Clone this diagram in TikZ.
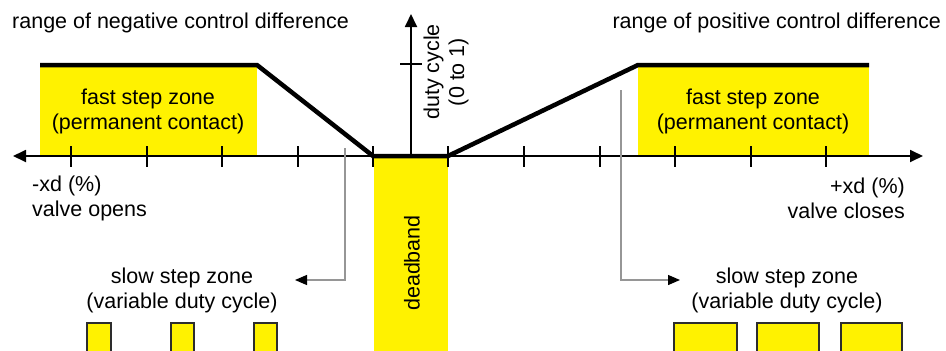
\documentclass[tikz,border=0pt]{standalone}
\usepackage{fontspec}
\setmainfont{Liberation Sans}
\usetikzlibrary{arrows.meta}
\definecolor{zoneyellow}{RGB}{255,242,0}
\definecolor{pulseedge}{RGB}{45,45,45}
\definecolor{leadergray}{RGB}{150,150,150}
\tikzset{
  lbl/.style={font=\fontsize{21.5}{25}\selectfont, inner sep=0pt, align=center, text=black},
  zonefill/.style={fill=zoneyellow, draw=none},
  axisline/.style={line width=1.8pt, black},
  tickline/.style={line width=1.8pt, black},
  curve/.style={line width=4.5pt, black, line join=miter},
  pulse/.style={draw=pulseedge, line width=2pt},
  leader/.style={draw=leadergray, line width=1.3pt, -{Triangle[length=12pt,width=10pt,color=black]}},
  axistip/.style={{Triangle[length=13pt,width=12pt]}-{Triangle[length=13pt,width=12pt]}},
  axistipone/.style={-{Triangle[length=13pt,width=12pt]}}
}
\begin{document}
\begin{tikzpicture}[x=1pt,y=-1pt]
\useasboundingbox (0,0) rectangle (946,351);
% yellow zones
\fill[zonefill] (40,65) rectangle (257,156);
\fill[zonefill] (638,65) rectangle (869,156);
\fill[zonefill] (374,156) rectangle (448,351);
% pulses
\foreach \a/\b in {87/111,171/194,254/277,674/737,757/819,841/902}{
  \fill[zonefill] (\a,323) rectangle (\b,351);
  \draw[pulse] (\a,352) -- (\a,323) -- (\b,323) -- (\b,352);
}
% axes
\coordinate (xl) at (13,156);
\coordinate (xr) at (923,156);
\coordinate (origin) at (411,156);
\coordinate (ytop) at (411,14);
\draw[axisline, axistip] (xl) -- (xr);
\draw[axisline, axistipone] (origin) -- (ytop);
\foreach \x in {71,147,222,298,373,448,524,600,675,751,826}{
  \draw[tickline] (\x,146) -- (\x,167);
}
\draw[tickline] (400,64) -- (422,64);
% characteristic curve
\coordinate (c1) at (40,65);
\coordinate (c2) at (257,65);
\coordinate (c3) at (373,156);
\coordinate (c4) at (448,156);
\coordinate (c5) at (638,65);
\coordinate (c6) at (869,65);
\draw[curve] (c1) -- (c2) -- (c3) -- (c4) -- (c5) -- (c6);
% labels
\node[lbl, anchor=west] (negrange) at (12,23) {range of negative control difference};
\node[lbl, anchor=east] (posrange) at (941,23) {range of positive control difference};
\node[lbl] (fastL) at (148,111) {fast step zone\\(permanent contact)};
\node[lbl] (fastR) at (753,111) {fast step zone\\(permanent contact)};
\node[lbl, rotate=90] (duty) at (446,72) {duty cycle\\(0 to 1)};
\node[lbl, anchor=west, align=left] (xneg) at (32,198) {-xd (\%)\\valve opens};
\node[lbl, anchor=east, align=right] (xpos) at (905,198) {+xd (\%)\\valve closes};
\node[lbl, rotate=90] (dead) at (412,263) {deadband};
\node[lbl] (slowL) at (182,290) {slow step zone\\(variable duty cycle)};
\node[lbl] (slowR) at (787,290) {slow step zone\\(variable duty cycle)};
% leader arrows
\coordinate (lstart) at (345,148);
\coordinate (lend) at (295,280);
\coordinate (rstart) at (621,90);
\coordinate (rend) at (680,280);
\draw[leader] (lstart) |- (lend);
\draw[leader] (rstart) |- (rend);
\end{tikzpicture}
\end{document}
